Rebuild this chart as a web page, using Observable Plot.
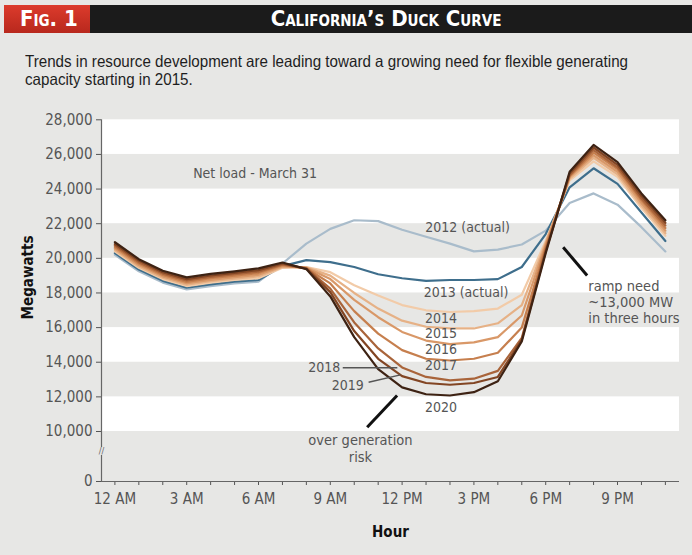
<!DOCTYPE html>
<html>
<head>
<meta charset="utf-8">
<script src="https://cdn.jsdelivr.net/npm/d3@7"></script>
<script src="https://cdn.jsdelivr.net/npm/@observablehq/plot@0.6"></script>
<style>
  html, body { margin: 0; padding: 0; }
  body { width: 692px; height: 555px; background: #e7e7e5; position: relative; overflow: hidden;
         font-family: "DejaVu Sans Condensed", "Liberation Sans", Arial, sans-serif; }
  .hdr { position: absolute; left: 4px; top: 5px; width: 688px; height: 28px; background: #1b1b1b; }
  .fig { position: absolute; left: 0; top: 0; width: 86px; height: 28px; background: linear-gradient(#dc3b2c, #b8281d);
         color: #fff; font-weight: bold; font-size: 22px; font-variant: small-caps; line-height: 28px; padding-left: 16px; box-sizing: border-box; }
  .ttl { position: absolute; left: 86px; right: 0; top: 0; height: 28px; color: #fff; text-align: center; padding-right: 10px;
         font-weight: bold; font-size: 22px; font-variant: small-caps; line-height: 28px; }
  .sub { position: absolute; left: 25px; top: 52px; font-family: "Liberation Sans", Arial, sans-serif; font-size: 16.5px; line-height: 18px; color: #1e1e1e; }
  .sub div { white-space: nowrap; width: max-content; transform-origin: 0 50%; }
  #chart { position: absolute; left: 0; top: 100px; }
</style>
</head>
<body>
<div class="hdr"><div class="fig">Fig. 1</div><div class="ttl">California’s Duck Curve</div></div>
<div class="sub"><div id="s1">Trends in resource development are leading toward a growing need for flexible generating</div><div id="s2">capacity starting in 2015.</div></div>
<div id="chart"></div>
<script>
// ---- data ----
const hours = [0,1,2,3,4,5,6,7,8,9,10,11,12,13,14,15,16,17,18,19,20,21,22,23];
const hourTicks = [0,3,6,9,12,15,18,21];
const hourTickLabels = ["12 AM","3 AM","6 AM","9 AM","12 PM","3 PM","6 PM","9 PM"];
const mwTicks = [0,10000,12000,14000,16000,18000,20000,22000,24000,26000,28000];
const years = ["2012","2013","2014","2015","2016","2017","2018","2019","2020"];
const yearColors = ["#a9bccb","#3e6e8c","#f2cba8","#e6b186","#d99868","#c67f4e","#a9643a","#824523","#3d2213"];

const load2012 = [20200,19250,18600,18200,18400,18550,18650,19700,20850,21700,22200,22150,21650,21250,20850,20400,20500,20800,21600,23200,23750,23100,21800,20400];
const load2013 = [20300,19350,18700,18300,18500,18650,18750,19550,19900,19780,19500,19080,18850,18700,18750,18750,18800,19500,21400,24100,25200,24300,22650,21000];
const load2014 = [20400,19450,18800,18400,18600,18750,18850,19450,19500,19200,18450,17850,17300,17000,16900,16950,17100,17900,21000,24500,25600,24700,22900,21300];
const load2015 = [20480,19530,18880,18480,18680,18830,18950,19500,19480,19000,18000,17100,16400,16050,15950,15950,16250,17300,20900,24600,25800,24850,23050,21450];
const load2016 = [20560,19610,18960,18560,18760,18910,19050,19550,19450,18800,17600,16600,15750,15250,15050,15150,15450,16700,20800,24700,25950,25000,23200,21600];
const load2017 = [20650,19700,19040,18640,18850,19000,19150,19600,19430,18550,16950,15650,14700,14200,14100,14200,14550,16000,20650,24750,26100,25150,23350,21750];
const load2018 = [20730,19780,19120,18720,18930,19080,19230,19650,19420,18250,16300,14800,13700,13150,12950,13050,13500,15400,20500,24800,26250,25250,23450,21900];
const load2019 = [20820,19870,19200,18800,19010,19160,19320,19700,19400,18050,15800,14200,13200,12800,12700,12800,13150,15300,20400,24900,26400,25400,23600,22050];
const load2020 = [20930,19950,19280,18900,19100,19250,19420,19760,19380,17800,15450,13600,12550,12150,12080,12270,12900,15200,20300,25000,26550,25550,23750,22200];
const loads = [load2012,load2013,load2014,load2015,load2016,load2017,load2018,load2019,load2020];

// alternating white bands (MW ranges)
const bandLo = [26000,22000,18000,14000,10000];
const bandHi = [28000,24000,20000,16000,12000];

// annotations (positions in data units: hour, MW)
const yearLabelText = ["2012 (actual)","2013 (actual)","2014","2015","2016","2017","2020"];
const yearLabelHour = [12.97,12.9,12.96,12.96,12.96,12.96,12.96];
const yearLabelMW   = [21800,18050,16520,15640,14740,13810,11400];
const sideLabelText = ["2018","2019"];
const sideLabelHour = [9.42,10.4];
const sideLabelMW   = [13680,12660];
const leaderX1 = [9.52,10.6], leaderY1 = [13680,12850], leaderX2 = [11.8,11.93], leaderY2 = [13680,13270];
const arrowX1 = [11.79,18.73], arrowY1 = [12080,20640], arrowX2 = [10.54,19.73], arrowY2 = [10250,19010];
const axisBreak = [5200, 6800];

// ---- build tables ----
const series = [];
years.forEach((yr, i) => hours.forEach((h, j) => series.push({year: yr, hour: h, mw: loads[i][j]})));
const bands = bandLo.map((lo, i) => ({lo, hi: bandHi[i]}));
const yearLabels = yearLabelText.map((t, i) => ({t, h: yearLabelHour[i], v: yearLabelMW[i]}));
const sideLabels = sideLabelText.map((t, i) => ({t, h: sideLabelHour[i], v: sideLabelMW[i]}));
const leaders = leaderX1.map((x, i) => ({x1: x, y1: leaderY1[i], x2: leaderX2[i], y2: leaderY2[i]}));
const arrows = arrowX1.map((x, i) => ({x1: x, y1: arrowY1[i], x2: arrowX2[i], y2: arrowY2[i]}));

const xDomain = [-0.56, 23.59];
const font = '"DejaVu Sans Condensed", "Liberation Sans", Arial, sans-serif';
const gray = "#555";

const chart = Plot.plot({
  width: 692, height: 455,
  marginLeft: 101, marginRight: 13, marginTop: 19, marginBottom: 74,
  style: {background: "transparent", fontFamily: font, fontSize: "15px", color: gray},
  x: {domain: xDomain, ticks: hours, tickSize: 4, tickPadding: 8,
      tickFormat: h => { const k = hourTicks.indexOf(h); return k >= 0 ? hourTickLabels[k] : ""; }, label: null},
  y: {type: "linear", domain: [0, 10000, 28000], range: [381, 331, 19.3], ticks: mwTicks,
      tickFormat: d3.format(","), tickSize: 5, tickPadding: 4, label: null},
  color: {domain: years, range: yearColors},
  marks: [
    Plot.rect(bands, {y1: "lo", y2: "hi", fill: "white"}),
    Plot.ruleY([0], {stroke: "#666", strokeWidth: 1.2}),
    Plot.ruleX([xDomain[0]], {y1: 0, y2: axisBreak[0], stroke: "#666", strokeWidth: 1.2}),
    Plot.ruleX([xDomain[0]], {y1: axisBreak[1], y2: 28000, stroke: "#666", strokeWidth: 1.2}),
    Plot.text([d3.mean(axisBreak)], {x: xDomain[0], y: d => d, text: () => "//", fontSize: 9, fill: "#666"}),
    Plot.line(series, {x: "hour", y: "mw", z: "year", stroke: "year", strokeWidth: 2.2, strokeLinejoin: "round"}),
    Plot.text(["Net load - March 31"], {x: [5.86], y: [24880], text: d => d, fill: gray, fontSize: 14}),
    Plot.text(yearLabels, {x: "h", y: "v", text: "t", textAnchor: "start", fill: gray, fontSize: 14}),
    Plot.text(sideLabels, {x: "h", y: "v", text: "t", textAnchor: "end", fill: gray, fontSize: 14}),
    Plot.link(leaders, {x1: "x1", y1: "y1", x2: "x2", y2: "y2", stroke: gray, strokeWidth: 1.5}),
    Plot.link(arrows, {x1: "x1", y1: "y1", x2: "x2", y2: "y2", stroke: "#111", strokeWidth: 3}),
    Plot.text(["over generation\nrisk"], {x: [10.26], y: [6660], text: d => d, fill: gray, fontSize: 14.5, lineHeight: 1.15}),
    Plot.text(["ramp need\n~13,000 MW\nin three hours"], {x: [19.78], y: [17490], text: d => d, textAnchor: "start", fill: gray, fontSize: 14.5, lineHeight: 1.12}),
    Plot.text(["Hour"], {frameAnchor: "bottom", dy: 51, lineAnchor: "middle", text: d => d, fontWeight: "bold", fill: "#111", fontSize: 15}),
    Plot.text(["Megawatts"], {frameAnchor: "left", dx: -73, dy: -23, rotate: -90, textAnchor: "middle", text: d => d, fontWeight: "bold", fill: "#111", fontSize: 15})
  ]
});
document.getElementById("chart").appendChild(chart);

// fit the subtitle to the reference line length (emulates the condensed face)
const s1 = document.getElementById("s1"), s2 = document.getElementById("s2");
const k = 603 / s1.getBoundingClientRect().width;
s1.style.transform = s2.style.transform = `scaleX(${k})`;
</script>
</body>
</html>
